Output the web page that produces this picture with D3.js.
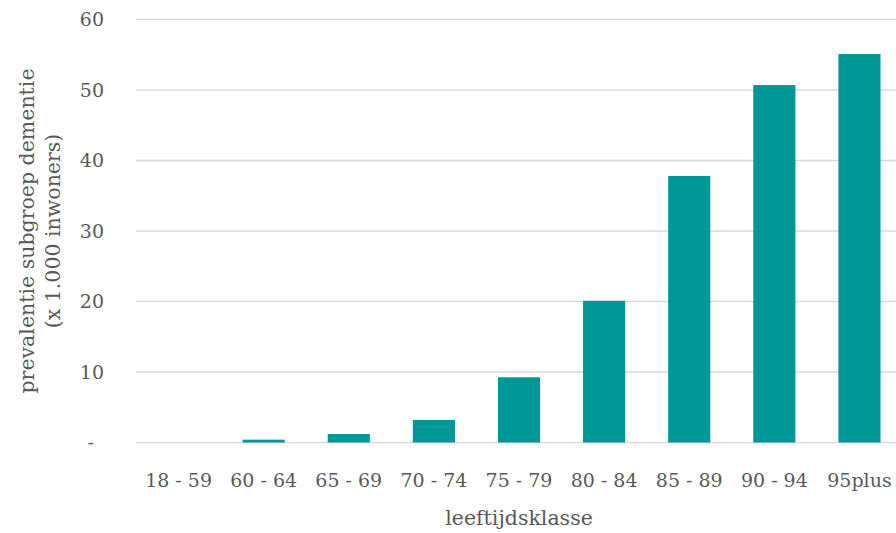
<!DOCTYPE html>
<html>
<head>
<meta charset="utf-8">
<script src="https://cdn.jsdelivr.net/npm/d3@7"></script>
<style>
  html, body { margin: 0; padding: 0; background: #fff; }
  svg { display: block; }
  text { font-family: "DejaVu Serif", "Liberation Serif", serif; fill: #595959; }
</style>
</head>
<body>
<svg id="chart" width="896" height="533"></svg>
<script>
const categories = ["18 - 59", "60 - 64", "65 - 69", "70 - 74", "75 - 79", "80 - 84", "85 - 89", "90 - 94", "95plus"];
const values = [0, 0.4, 1.2, 3.2, 9.25, 20.1, 37.8, 50.7, 55.1];
const yTicks = [0, 10, 20, 30, 40, 50, 60];
const yTitleLines = ["prevalentie subgroep dementie", "(x 1.000 inwoners)"];
const xTitle = "leeftijdsklasse";

const svg = d3.select("#chart");
const margin = { left: 136, right: -6, top: 19.5, bottom: 90.5 };
const W = 896, H = 533;

const x = d3.scaleBand().domain(categories).range([margin.left, W - margin.right]).paddingInner(0.505).paddingOuter(0.2525);
const y = d3.scaleLinear().domain([0, 60]).range([H - margin.bottom, margin.top]);

// gridlines
svg.append("g").selectAll("line").data(yTicks).join("line")
  .attr("x1", margin.left).attr("x2", W)
  .attr("y1", d => y(d)).attr("y2", d => y(d))
  .attr("stroke", "#d9d9d9").attr("stroke-width", 1.5);

// bars
svg.append("g").selectAll("rect").data(values).join("rect")
  .attr("x", (d, i) => x(categories[i]))
  .attr("width", x.bandwidth())
  .attr("y", d => y(d))
  .attr("height", d => y(0) - y(d))
  .attr("fill", "#009797");

// y axis
const yAxis = d3.axisLeft(y).tickValues(yTicks).tickSize(0).tickPadding(0)
  .tickFormat(d => d === 0 ? "-" : d3.format("d")(d));
const yg = svg.append("g").attr("transform", `translate(104,0)`).call(yAxis);
yg.select(".domain").remove();
yg.selectAll("text").attr("font-size", 19).style("fill", "#595959")
  .attr("font-family", "DejaVu Serif, Liberation Serif, serif")
  .attr("dx", d => d === 0 ? -10 : 0);

// x axis
const xAxis = d3.axisBottom(x).tickSize(0).tickPadding(0);
const xg = svg.append("g").attr("transform", `translate(0,${y(0)})`).call(xAxis);
xg.select(".domain").remove();
xg.selectAll("text").attr("font-size", 19).style("fill", "#595959")
  .attr("font-family", "DejaVu Serif, Liberation Serif, serif")
  .attr("y", 44).attr("dy", 0);

// axis titles
const yt = svg.append("text")
  .attr("transform", `translate(0,${(y(0) + y(60)) / 2}) rotate(-90)`)
  .attr("text-anchor", "middle").attr("font-size", 20.5);
yt.selectAll("tspan").data(yTitleLines).join("tspan")
  .attr("x", 0).attr("y", (d, i) => i === 0 ? 34 : 60)
  .text(d => d);

svg.append("text")
  .attr("x", (margin.left + W - margin.right) / 2)
  .attr("y", 525)
  .attr("text-anchor", "middle").attr("font-size", 20.5)
  .text(xTitle);
</script>
</body>
</html>
